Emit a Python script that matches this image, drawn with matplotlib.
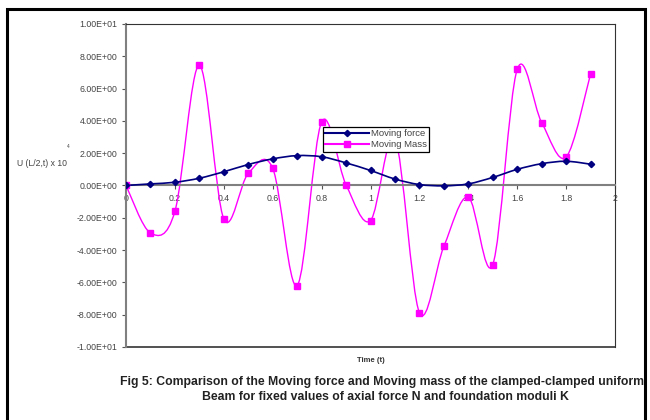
import numpy as np
import matplotlib.pyplot as plt
from matplotlib.path import Path
from matplotlib.patches import PathPatch, Rectangle
from matplotlib.ticker import FuncFormatter

plt.rcParams['font.family'] = ['Liberation Sans', 'DejaVu Sans']

t = [0, 0.1, 0.2, 0.3, 0.4, 0.5, 0.6, 0.7, 0.8, 0.9,
     1.0, 1.1, 1.2, 1.3, 1.4, 1.5, 1.6, 1.7, 1.8, 1.9]
moving_force = [0, 0.1, 0.2, 0.45, 0.85, 1.3, 1.65, 1.85, 1.78, 1.4,
                0.93, 0.4, 0.06, -0.02, 0.1, 0.5, 1.0, 1.35, 1.5, 1.32]
moving_mass = [0, -2.94, -1.6, 7.45, -2.07, 0.75, 1.07, -6.2, 3.93, 0.04,
               -2.17, 2.9, -7.87, -3.77, -0.72, -4.9, 7.19, 3.9, 1.76, 6.9]


def smooth_path(x, y):
    # excel style smoothed line: bezier segments through every point
    p = np.column_stack([x, y]).astype(float)
    n = len(p)
    verts = [p[0]]
    codes = [Path.MOVETO]
    for i in range(n - 1):
        p0 = p[i - 1] if i > 0 else p[i]
        p3 = p[i + 2] if i + 2 < n else p[i + 1]
        c1 = p[i] + (p[i + 1] - p0) / 6
        c2 = p[i + 1] - (p3 - p[i]) / 6
        verts += [c1, c2, p[i + 1]]
        codes += [Path.CURVE4] * 3
    return Path(verts, codes)


fig = plt.figure(figsize=(6.5, 4.2), dpi=100)
ax = fig.add_axes([126 / 650, 1 - 347 / 420, 489 / 650, 323 / 420])

navy = '#000080'
magenta = '#FF00FF'

ax.add_patch(PathPatch(smooth_path(t, moving_force), fill=False, ec=navy, lw=1.2, zorder=3))
ax.add_patch(PathPatch(smooth_path(t, moving_mass), fill=False, ec=magenta, lw=1.0, zorder=2))
ax.plot(t, moving_force, ls='none', marker='D', ms=3.2, color=navy, zorder=4, label='Moving force')
ax.plot(t, moving_mass, ls='none', marker='s', ms=4.2, color=magenta, zorder=3, label='Moving Mass')

ax.set_xlim(0, 2)
ax.set_ylim(-10, 10)
ax.set_xticks(np.arange(0, 2.01, 0.2))
ax.set_yticks(np.arange(-10, 10.01, 2))
ax.xaxis.set_major_formatter(FuncFormatter(lambda v, p: f'{v:g}'))
ax.yaxis.set_major_formatter(FuncFormatter(lambda v, p: f'{v:.2E}'))

ax.spines['bottom'].set_position(('data', 0))
ax.spines['bottom'].set_color('#808080')
ax.spines['bottom'].set_linewidth(1.5)
ax.spines['left'].set_color('#808080')
ax.spines['left'].set_linewidth(1.5)
ax.spines['top'].set_color('#333333')
ax.spines['right'].set_color('#333333')
ax.spines['top'].set_linewidth(0.8)
ax.spines['right'].set_linewidth(0.8)
ax.axhline(-10, color='#333333', lw=1.2, clip_on=False)

ax.tick_params(axis='both', labelsize=6.3, length=3, width=0.8, color='#555555',
               labelcolor='#444444', pad=3)

leg = ax.legend(loc='upper left', bbox_to_anchor=((323 - 126) / 489, (347 - 127) / 323),
                fontsize=6.8, frameon=True, fancybox=False, borderpad=0.25,
                handlelength=4.6, labelspacing=0.2, handletextpad=0.2, borderaxespad=0,
                framealpha=1)
leg.get_frame().set_edgecolor('black')
leg.get_frame().set_linewidth(0.9)
for line, c in zip(leg.get_lines(), [navy, magenta]):
    line.set_linestyle('-')
    line.set_color(c)
for txt in leg.get_texts():
    txt.set_color('#444444')
leg.set_zorder(10)

fig.text(17 / 650, 1 - 163 / 420, 'U (L/2,t) x 10', fontsize=6.2, color='#444444', va='center')
fig.text(67 / 650, 1 - 147 / 420, '4', fontsize=3.5, color='#444444', va='center')
fig.text(371 / 650, 1 - 360 / 420, 'Time (t)', fontsize=5.5, fontweight='bold', color='#333333',
         ha='center', va='center')
fig.text(382 / 650, 1 - 382 / 420,
         'Fig 5: Comparison of the Moving force and Moving mass of the clamped-clamped uniform',
         fontsize=8.8, fontweight='bold', color='#222222', ha='center', va='center')
fig.text(385 / 650, 1 - 397 / 420,
         'Beam for fixed values of axial force N and foundation moduli K',
         fontsize=8.8, fontweight='bold', color='#222222', ha='center', va='center')

fig.patches.append(Rectangle((7 / 650, -0.05), 638 / 650, 1.05 - 9 / 420, transform=fig.transFigure,
                             fill=False, ec='black', lw=2.2, zorder=20))
fig.patches.append(Rectangle((647 / 650, 0), 3 / 650, 1, transform=fig.transFigure,
                             fc='white', ec='none', zorder=19))

fig.savefig('out.png', dpi=100)
